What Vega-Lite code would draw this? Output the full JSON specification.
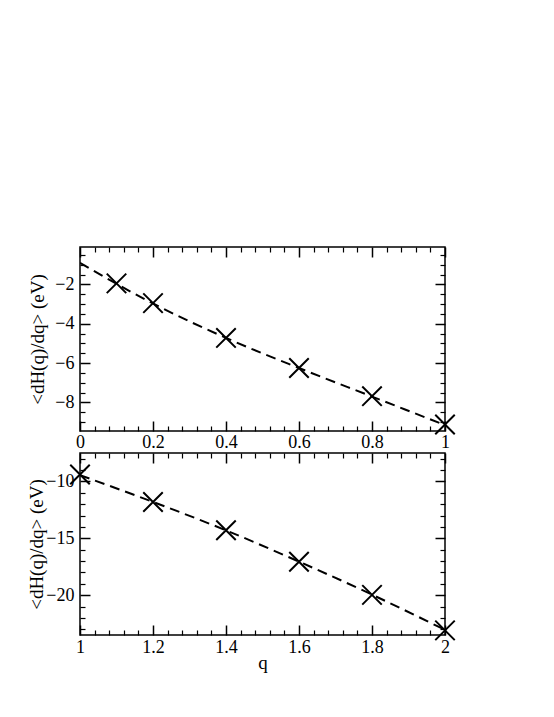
{
  "$schema": "https://vega.github.io/schema/vega-lite/v6.json",
  "padding": {"left": 27, "top": 245, "right": 5, "bottom": 5},
  "background": "white",
  "config": {
    "view": {"stroke": "black", "strokeWidth": 1.5},
    "font": "Liberation Serif",
    "axis": {"labelFont": "Liberation Serif", "titleFont": "Liberation Serif", "labelColor": "black", "titleColor": "black", "tickColor": "black", "domain": false, "grid": false, "titleFontWeight": "normal", "labelFontSize": 18, "titleFontSize": 19}
  },
  "datasets": {
    "ptsA": [
      {"q": 0.1, "v": -1.95}, {"q": 0.2, "v": -2.95}, {"q": 0.4, "v": -4.72},
      {"q": 0.6, "v": -6.25}, {"q": 0.8, "v": -7.68}, {"q": 1.0, "v": -9.12}
    ],
    "fitA": [
      {"q": 0.0, "v": -0.9}, {"q": 0.1, "v": -1.97}, {"q": 0.2, "v": -2.97}, {"q": 0.4, "v": -4.72},
      {"q": 0.6, "v": -6.25}, {"q": 0.8, "v": -7.7}, {"q": 1.0, "v": -9.15}
    ],
    "ptsB": [
      {"q": 1.0, "v": -9.39}, {"q": 1.2, "v": -11.81}, {"q": 1.4, "v": -14.29},
      {"q": 1.6, "v": -17.06}, {"q": 1.8, "v": -19.97}, {"q": 2.0, "v": -23.09}
    ],
    "fitB": [
      {"q": 1.0, "v": -9.45}, {"q": 1.2, "v": -11.8}, {"q": 1.4, "v": -14.3},
      {"q": 1.6, "v": -17.05}, {"q": 1.8, "v": -19.95}, {"q": 2.0, "v": -23.05}
    ]
  },
  "vconcat": [
    {
      "width": 365, "height": 184,
      "resolve": {"axis": {"x": "independent", "y": "independent"}},
      "layer": [
        {
          "data": {"name": "fitA"},
          "mark": {"type": "line", "color": "black", "strokeWidth": 2, "strokeDash": [10, 6], "interpolate": "monotone", "clip": true},
          "encoding": {
            "x": {"field": "q", "type": "quantitative", "scale": {"domain": [0, 1], "nice": false, "zero": false},
                  "axis": {"orient": "bottom", "ticks": false, "values": [0, 0.2, 0.4, 0.6, 0.8, 1], "format": "~g", "labelPadding": 2, "title": null, "labelFlush": false}},
            "y": {"field": "v", "type": "quantitative", "scale": {"domain": [-9.45, -0.1], "nice": false, "zero": false},
                  "axis": {"orient": "left", "ticks": false, "values": [-8, -6, -4, -2], "format": "~g", "labelPadding": 6, "title": "<dH(q)/dq> (eV)", "titlePadding": 7, "labelFlush": false}}
          }
        },
        {
          "data": {"name": "ptsA"},
          "mark": {"type": "point", "shape": "M-1,-1L1,1M-1,1L1,-1", "size": 380, "filled": false, "stroke": "black", "strokeWidth": 2, "opacity": 1, "clip": false},
          "encoding": {
            "x": {"field": "q", "type": "quantitative", "scale": {"domain": [0, 1], "nice": false, "zero": false},
                  "axis": {"orient": "bottom", "labels": false, "tickSize": -10, "tickWidth": 1.5, "values": [0, 0.2, 0.4, 0.6, 0.8, 1], "title": null}},
            "y": {"field": "v", "type": "quantitative", "scale": {"domain": [-9.45, -0.1], "nice": false, "zero": false},
                  "axis": {"orient": "left", "labels": false, "tickSize": -10, "tickWidth": 1.5, "values": [-8, -6, -4, -2], "title": null}}
          }
        },
        {
          "data": {"name": "ptsA"},
          "mark": {"type": "point", "opacity": 0},
          "encoding": {
            "x": {"field": "q", "type": "quantitative", "scale": {"domain": [0, 1], "nice": false, "zero": false},
                  "axis": {"orient": "bottom", "labels": false, "tickSize": -5, "tickWidth": 1.2, "values": [0.04, 0.08, 0.12, 0.16, 0.24, 0.28, 0.32, 0.36, 0.44, 0.48, 0.52, 0.56, 0.64, 0.68, 0.72, 0.76, 0.84, 0.88, 0.92, 0.96], "title": null}},
            "y": {"field": "v", "type": "quantitative", "scale": {"domain": [-9.45, -0.1], "nice": false, "zero": false},
                  "axis": {"orient": "left", "labels": false, "tickSize": -5, "tickWidth": 1.2, "values": [-9, -8.5, -7.5, -7, -6.5, -5.5, -5, -4.5, -3.5, -3, -2.5, -1.5, -1, -0.5], "title": null}}
          }
        },
        {
          "data": {"name": "ptsA"},
          "mark": {"type": "point", "opacity": 0},
          "encoding": {
            "x": {"field": "q", "type": "quantitative", "scale": {"domain": [0, 1], "nice": false, "zero": false},
                  "axis": {"orient": "top", "labels": false, "tickSize": -10, "tickWidth": 1.5, "values": [0, 0.2, 0.4, 0.6, 0.8, 1], "title": null}},
            "y": {"field": "v", "type": "quantitative", "scale": {"domain": [-9.45, -0.1], "nice": false, "zero": false},
                  "axis": {"orient": "right", "labels": false, "tickSize": -10, "tickWidth": 1.5, "values": [-8, -6, -4, -2], "title": null}}
          }
        },
        {
          "data": {"name": "ptsA"},
          "mark": {"type": "point", "opacity": 0},
          "encoding": {
            "x": {"field": "q", "type": "quantitative", "scale": {"domain": [0, 1], "nice": false, "zero": false},
                  "axis": {"orient": "top", "labels": false, "tickSize": -5, "tickWidth": 1.2, "values": [0.04, 0.08, 0.12, 0.16, 0.24, 0.28, 0.32, 0.36, 0.44, 0.48, 0.52, 0.56, 0.64, 0.68, 0.72, 0.76, 0.84, 0.88, 0.92, 0.96], "title": null}},
            "y": {"field": "v", "type": "quantitative", "scale": {"domain": [-9.45, -0.1], "nice": false, "zero": false},
                  "axis": {"orient": "right", "labels": false, "tickSize": -5, "tickWidth": 1.2, "values": [-9, -8.5, -7.5, -7, -6.5, -5.5, -5, -4.5, -3.5, -3, -2.5, -1.5, -1, -0.5], "title": null}}
          }
        }
      ]
    },
    {
      "width": 365, "height": 182,
      "resolve": {"axis": {"x": "independent", "y": "independent"}},
      "layer": [
        {
          "data": {"name": "fitB"},
          "mark": {"type": "line", "color": "black", "strokeWidth": 2, "strokeDash": [10, 6], "interpolate": "monotone", "clip": true},
          "encoding": {
            "x": {"field": "q", "type": "quantitative", "scale": {"domain": [1, 2], "nice": false, "zero": false},
                  "axis": {"orient": "bottom", "ticks": false, "values": [1, 1.2, 1.4, 1.6, 1.8, 2], "format": "~g", "labelPadding": 3, "title": "q", "titlePadding": -3, "labelFlush": false}},
            "y": {"field": "v", "type": "quantitative", "scale": {"domain": [-23.5, -7.5], "nice": false, "zero": false},
                  "axis": {"orient": "left", "ticks": false, "values": [-20, -15, -10], "format": "~g", "labelPadding": 6, "title": "<dH(q)/dq> (eV)", "titlePadding": -1, "labelFlush": false}}
          }
        },
        {
          "data": {"name": "ptsB"},
          "mark": {"type": "point", "shape": "M-1,-1L1,1M-1,1L1,-1", "size": 380, "filled": false, "stroke": "black", "strokeWidth": 2, "opacity": 1, "clip": false},
          "encoding": {
            "x": {"field": "q", "type": "quantitative", "scale": {"domain": [1, 2], "nice": false, "zero": false},
                  "axis": {"orient": "bottom", "labels": false, "tickSize": -10, "tickWidth": 1.5, "values": [1, 1.2, 1.4, 1.6, 1.8, 2], "title": null}},
            "y": {"field": "v", "type": "quantitative", "scale": {"domain": [-23.5, -7.5], "nice": false, "zero": false},
                  "axis": {"orient": "left", "labels": false, "tickSize": -10, "tickWidth": 1.5, "values": [-20, -15, -10], "title": null}}
          }
        },
        {
          "data": {"name": "ptsB"},
          "mark": {"type": "point", "opacity": 0},
          "encoding": {
            "x": {"field": "q", "type": "quantitative", "scale": {"domain": [1, 2], "nice": false, "zero": false},
                  "axis": {"orient": "bottom", "labels": false, "tickSize": -5, "tickWidth": 1.2, "values": [1.04, 1.08, 1.12, 1.16, 1.24, 1.28, 1.32, 1.36, 1.44, 1.48, 1.52, 1.56, 1.64, 1.68, 1.72, 1.76, 1.84, 1.88, 1.92, 1.96], "title": null}},
            "y": {"field": "v", "type": "quantitative", "scale": {"domain": [-23.5, -7.5], "nice": false, "zero": false},
                  "axis": {"orient": "left", "labels": false, "tickSize": -5, "tickWidth": 1.2, "values": [-23, -22, -21, -19, -18, -17, -16, -14, -13, -12, -11, -9, -8], "title": null}}
          }
        },
        {
          "data": {"name": "ptsB"},
          "mark": {"type": "point", "opacity": 0},
          "encoding": {
            "x": {"field": "q", "type": "quantitative", "scale": {"domain": [1, 2], "nice": false, "zero": false},
                  "axis": {"orient": "top", "labels": false, "tickSize": -10, "tickWidth": 1.5, "values": [1, 1.2, 1.4, 1.6, 1.8, 2], "title": null}},
            "y": {"field": "v", "type": "quantitative", "scale": {"domain": [-23.5, -7.5], "nice": false, "zero": false},
                  "axis": {"orient": "right", "labels": false, "tickSize": -10, "tickWidth": 1.5, "values": [-20, -15, -10], "title": null}}
          }
        },
        {
          "data": {"name": "ptsB"},
          "mark": {"type": "point", "opacity": 0},
          "encoding": {
            "x": {"field": "q", "type": "quantitative", "scale": {"domain": [1, 2], "nice": false, "zero": false},
                  "axis": {"orient": "top", "labels": false, "tickSize": -5, "tickWidth": 1.2, "values": [1.04, 1.08, 1.12, 1.16, 1.24, 1.28, 1.32, 1.36, 1.44, 1.48, 1.52, 1.56, 1.64, 1.68, 1.72, 1.76, 1.84, 1.88, 1.92, 1.96], "title": null}},
            "y": {"field": "v", "type": "quantitative", "scale": {"domain": [-23.5, -7.5], "nice": false, "zero": false},
                  "axis": {"orient": "right", "labels": false, "tickSize": -5, "tickWidth": 1.2, "values": [-23, -22, -21, -19, -18, -17, -16, -14, -13, -12, -11, -9, -8], "title": null}}
          }
        }
      ]
    }
  ],
  "spacing": 22,
  "bounds": "flush"
}
